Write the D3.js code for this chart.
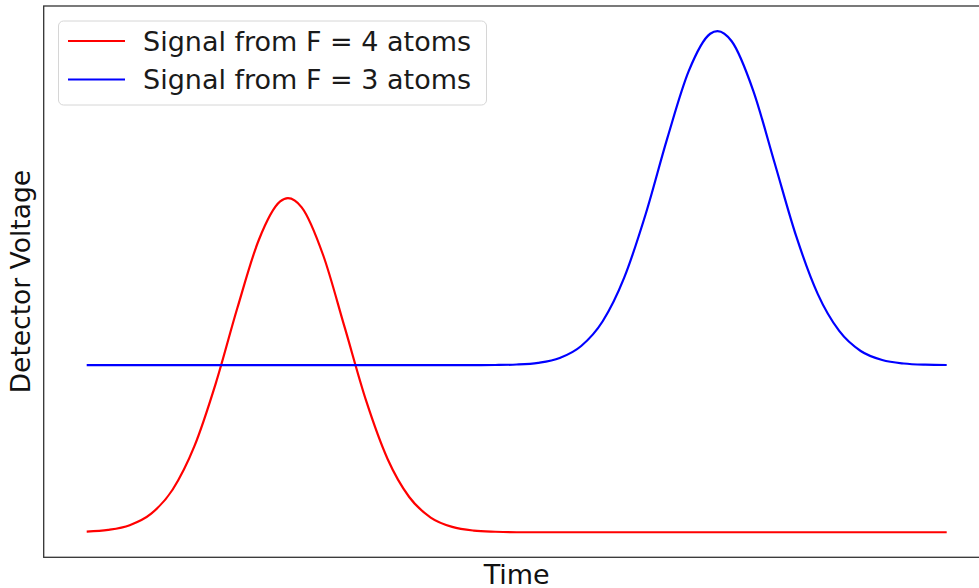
<!DOCTYPE html>
<html>
<head>
<meta charset="utf-8">
<script src="https://cdn.jsdelivr.net/npm/d3@7"></script>
<style>
  html, body { margin: 0; padding: 0; background: #fff; }
  svg { display: block; font-family: "DejaVu Sans", sans-serif; }
</style>
</head>
<body>
<svg id="chart" width="979" height="588"></svg>
<script>
// time samples (arbitrary units) and detector readings
var times = [0, 2.5, 5, 7.5, 10, 12.5, 15, 17.5, 20, 22.5, 23.4, 25, 27.5, 30, 32.5, 35, 37.5, 40,
  42.5, 45, 47.5, 50, 52.5, 55, 57.5, 60, 62.5, 65, 67.5, 70, 72.5, 73.35, 75, 77.5, 80, 82.5,
  85, 87.5, 90, 92.5, 95, 97.5, 100];

var signalF4 = [0.004, 0.014, 0.042, 0.111, 0.256, 0.512, 0.890, 1.339, 1.748, 1.980, 2.0, 1.945,
  1.658, 1.226, 0.786, 0.437, 0.211, 0.088, 0.032, 0.010, 0.003, 0, 0, 0, 0, 0, 0, 0, 0, 0, 0,
  0, 0, 0, 0, 0, 0, 0, 0, 0, 0, 0, 0];

var signalF3 = [1, 1, 1, 1, 1, 1, 1, 1, 1, 1, 1, 1, 1, 1, 1, 1, 1, 1, 1, 1, 1.001, 1.004, 1.014,
  1.043, 1.115, 1.263, 1.524, 1.905, 2.356, 2.760, 2.984, 3.0, 2.939, 2.644, 2.209, 1.772, 1.427,
  1.205, 1.085, 1.031, 1.010, 1.003, 1.001];

var seriesNames = ['Signal from F = 4 atoms', 'Signal from F = 3 atoms'];
var seriesColors = ['#ff0000', '#0000ff'];

var svg = d3.select('#chart');

// plot area (matplotlib-like 5% margins around the data)
var x = d3.scaleLinear().domain([-5, 105]).range([43.7, 989.7]);
var y = d3.scaleLinear().domain([-0.15, 3.15]).range([557.3, 6]);

var series = [signalF4, signalF3];

var line = d3.line()
  .x(function(d) { return x(d[0]); })
  .y(function(d) { return y(d[1]); })
  .curve(d3.curveMonotoneX);

series.forEach(function(vals, i) {
  svg.append('path')
    .datum(times.map(function(t, j) { return [t, vals[j]]; }))
    .attr('fill', 'none')
    .attr('stroke', seriesColors[i])
    .attr('stroke-width', 2.2)
    .attr('d', line);
});

// axes frame, no ticks
var x0 = x.range()[0], x1 = x.range()[1], y0 = y.range()[1], y1 = y.range()[0];
svg.append('rect')
  .attr('x', x0).attr('y', y0)
  .attr('width', x1 - x0).attr('height', y1 - y0)
  .attr('fill', 'none')
  .attr('stroke', '#333')
  .attr('stroke-width', 1.3);

svg.append('text')
  .attr('x', (x0 + x1) / 2)
  .attr('y', 584)
  .attr('text-anchor', 'middle')
  .attr('font-size', 27)
  .attr('fill', '#111')
  .text('Time');

svg.append('text')
  .attr('transform', 'translate(30,' + ((y0 + y1) / 2) + ') rotate(-90)')
  .attr('text-anchor', 'middle')
  .attr('font-size', 26.5)
  .attr('fill', '#111')
  .text('Detector Voltage');

// legend
var legend = svg.append('g');
legend.append('rect')
  .attr('x', 58.5).attr('y', 21)
  .attr('width', 428).attr('height', 84)
  .attr('rx', 5)
  .attr('fill', '#fff').attr('fill-opacity', 0.8)
  .attr('stroke', '#d6d6d6');

seriesNames.forEach(function(name, i) {
  var ly = 41 + i * 38.5;
  legend.append('line')
    .attr('x1', 68).attr('x2', 125)
    .attr('y1', ly).attr('y2', ly)
    .attr('stroke', seriesColors[i])
    .attr('stroke-width', 2.2);
  legend.append('text')
    .attr('x', 143)
    .attr('y', ly + 9.5)
    .attr('font-size', 27)
    .attr('fill', '#1a1a1a')
    .text(name);
});
</script>
</body>
</html>
